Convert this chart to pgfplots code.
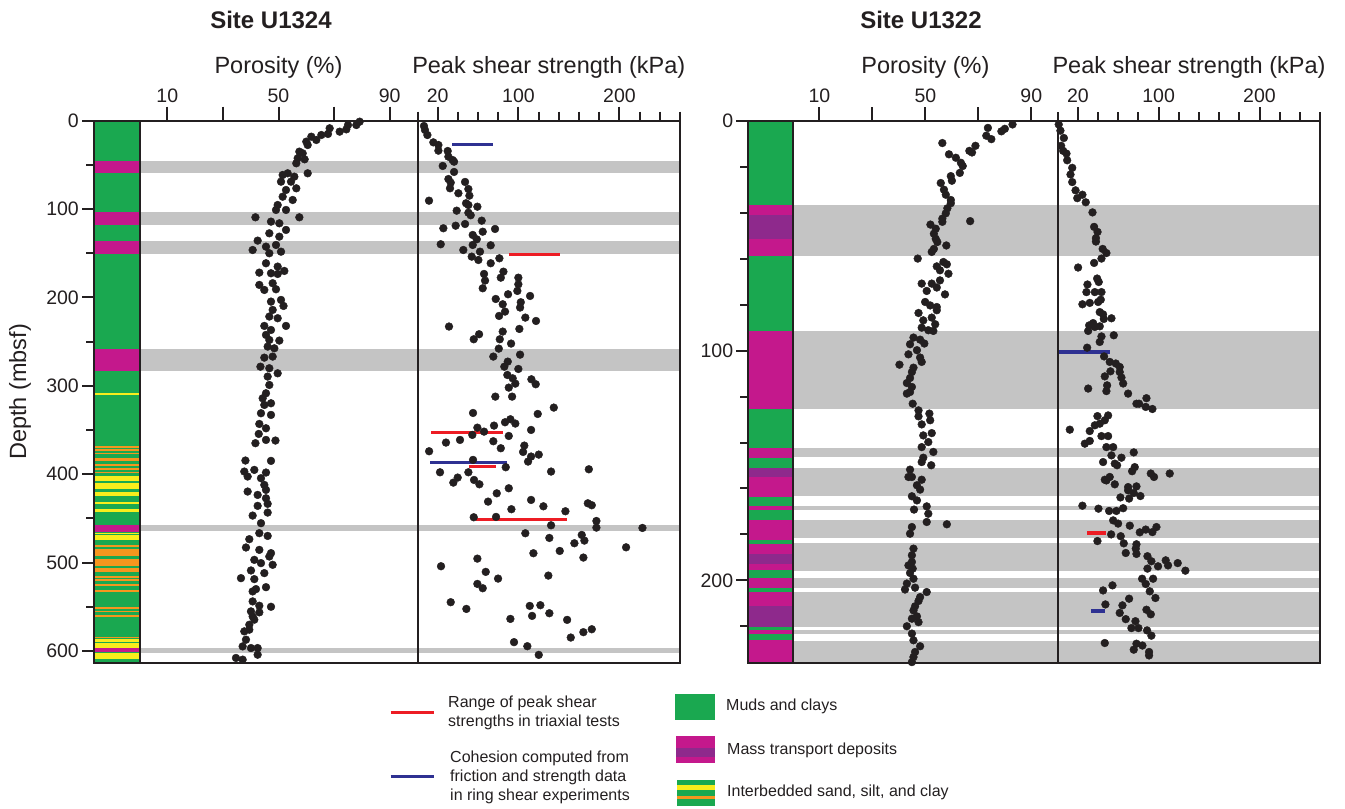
\documentclass[border=0pt]{standalone}
\usepackage{fontspec}
\setmainfont{Liberation Sans}
\usepackage{pgfplots}
\usepackage{pgfplotstable}
\pgfplotsset{compat=1.18}

\definecolor{ink}{RGB}{35,31,32}
\definecolor{mud}{RGB}{26,168,80}
\definecolor{mtd}{RGB}{196,24,140}
\definecolor{mtdp}{RGB}{142,41,140}
\definecolor{sandy}{RGB}{248,237,28}
\definecolor{silto}{RGB}{245,150,30}
\definecolor{bandc}{RGB}{196,196,196}
\definecolor{redl}{RGB}{237,28,36}
\definecolor{bluel}{RGB}{46,49,146}

\newcommand{\tickfont}{\fontsize{19.5}{22}\selectfont}
\newcommand{\labfont}{\fontsize{23.5}{27}\selectfont}
\newcommand{\titfont}{\fontsize{24}{28}\selectfont\bfseries}
\newcommand{\legfont}{\fontsize{16}{19}\selectfont}

\newcommand{\band}[3]{\fill[bandc] (axis cs:0,#2) rectangle (axis cs:#1,#3);}
\newcommand{\lith}[3]{\fill[#1] (axis cs:0,#2) rectangle (axis cs:1,#3);}

\pgfplotsset{
  base/.style={scale only axis, axis on top, clip=false, y dir=reverse,
    axis line style={line width=2pt, ink},
    tick style={line width=2pt, ink},
    tick align=outside,
    /pgf/number format/assume math mode=true,
    ticklabel style={font=\tickfont, text=ink, inner sep=0pt}},
  data/.style={base, ytick=\empty, xtick pos=right, xticklabel pos=right,
    xticklabel style={anchor=base, yshift=4.5pt}},
  litho/.style={base, xtick=\empty, xmin=0, xmax=1, ytick pos=left, yticklabel pos=left,
    yticklabel style={anchor=east, xshift=-3pt},
    major tick length=12pt, minor tick length=8pt},
  poro/.style={data, xmin=0, xmax=100, xtick={10,50,90}, minor xtick={30,70},
    major tick length=14pt, minor tick length=14pt},
  shear/.style={data, xmin=0, xmax=260, xtick={20,100,200},
    minor xtick={0,40,60,80,120,140,160,180,220,240,260},
    major tick length=14pt, minor tick length=9pt},
  dots/.style={only marks, mark=*, mark size=3.9pt, color=ink},
  redseg/.style={redl, line width=3.6pt, no marks},
  blueseg/.style={bluel, line width=3.6pt, no marks},
}

% ---------- Site U1324 porosity (%) vs depth (mbsf)
\pgfplotstableread{
x y
79.2 1.1
78.0 4.9
75.0 4.9
74.4 9.8
72.0 12.4
68.4 8.6
67.8 15.0
65.4 16.2
63.6 21.8
61.8 18.1
60.0 23.7
60.5 27.5
57.5 35.0
58.7 36.9
56.9 42.5
59.4 43.7
56.4 48.2
60.5 59.5
53.3 59.5
51.5 61.4
55.7 63.3
50.9 69.0
54.5 69.0
56.4 76.5
52.7 78.4
51.5 86.0
55.1 89.7
49.7 95.4
49.1 101.0
52.7 101.0
41.7 109.3
57.5 109.3
47.3 114.2
50.3 116.1
52.7 123.6
46.7 127.4
50.3 131.2
42.5 135.7
45.5 142.5
49.1 140.6
40.7 146.3
46.7 150.0
50.9 148.2
45.5 161.3
49.7 165.1
43.1 171.9
47.3 172.6
52.1 170.0
49.7 173.4
43.1 185.8
47.9 183.9
44.9 191.5
49.1 190.7
47.3 204.7
50.9 202.8
51.8 209.6
47.9 214.1
46.7 221.6
49.7 223.5
44.9 232.2
52.7 232.2
47.3 236.8
45.5 242.4
50.3 248.8
46.7 248.1
46.1 255.6
48.5 257.5
44.9 268.1
47.9 266.9
43.5 278.3
46.7 280.1
49.7 285.8
46.1 289.5
46.7 299.0
45.5 308.4
44.3 314.1
47.3 319.7
44.9 321.6
43.7 331.0
47.3 332.9
43.1 343.1
45.5 348.0
42.9 354.4
45.5 361.2
41.7 364.9
48.9 361.9
38.1 384.5
47.3 384.9
37.7 397.0
41.3 395.1
38.9 402.6
43.7 404.5
45.5 398.1
44.9 412.1
38.9 419.6
42.5 423.4
45.5 417.7
45.5 427.2
42.5 435.8
46.1 433.5
40.7 446.8
46.1 443.4
43.7 455.4
43.1 466.7
46.1 469.8
39.5 473.5
38.3 482.9
43.1 485.6
47.3 489.3
41.3 496.9
43.7 500.6
46.7 493.1
47.9 502.5
44.9 511.9
40.1 508.9
36.5 517.6
41.3 518.7
45.5 527.8
40.7 532.6
41.9 530.0
40.7 543.9
43.1 548.8
47.3 550.0
40.1 555.2
43.1 556.3
40.7 560.9
41.3 564.6
39.5 570.3
37.7 577.8
39.5 575.9
38.3 587.2
37.1 594.8
40.1 596.7
42.5 596.7
42.5 604.2
34.7 607.9
37.1 609.8
}\poroL

% ---------- Site U1324 peak shear strength (kPa) vs depth (mbsf)
\pgfplotstableread{
x y
6.4 6.0
7.4 10.5
9.8 16.2
15.7 24.5
20.7 27.5
20.7 33.9
29.9 34.3
30.6 40.7
34.8 44.5
36.2 46.4
25.0 51.2
36.2 58.0
30.6 66.0
32.9 70.1
32.2 76.5
47.1 69.3
50.4 77.3
51.4 84.8
40.5 82.1
11.4 90.5
48.1 93.4
50.4 95.4
59.3 97.3
38.8 101.8
50.4 104.1
52.7 107.0
63.6 113.1
25.6 121.7
37.8 118.8
47.1 116.9
76.8 122.5
54.7 129.3
58.7 134.2
64.6 125.6
23.0 139.8
54.7 140.6
72.5 141.0
45.4 146.3
61.9 148.2
53.7 153.8
60.3 157.6
72.5 161.3
81.1 155.7
65.9 173.4
85.1 170.8
66.9 180.9
82.5 177.6
99.9 177.6
64.6 189.6
99.9 185.1
98.9 192.6
89.7 196.4
111.5 198.3
77.5 201.7
84.4 207.7
102.3 205.4
101.6 211.4
86.7 216.0
80.8 220.9
106.8 222.8
117.4 226.6
31.2 232.9
61.0 241.6
55.7 247.3
84.4 238.6
100.9 235.6
81.5 247.3
92.7 252.2
80.5 257.9
101.6 264.7
75.1 266.9
89.4 272.6
86.0 278.3
99.9 280.9
89.0 287.7
94.3 291.5
96.9 297.5
112.8 292.6
117.1 298.2
90.4 302.0
77.1 312.2
93.7 312.2
135.0 324.6
55.0 330.7
119.1 331.8
59.3 347.3
75.8 345.0
86.7 341.2
92.0 337.8
96.9 342.7
112.5 349.9
54.3 355.5
65.9 351.8
90.4 356.7
42.1 361.2
28.2 364.2
75.1 362.7
82.5 370.6
105.8 367.6
104.6 374.8
11.5 374.0
112.5 380.0
120.1 377.8
109.5 385.7
55.0 383.8
87.4 392.1
22.3 397.8
50.4 397.8
132.3 397.0
169.7 394.4
39.8 403.8
35.5 409.5
56.0 406.5
61.3 411.4
78.5 421.6
90.4 415.9
69.9 431.0
112.5 429.1
124.7 436.3
93.0 439.6
146.5 441.9
168.7 432.9
172.6 435.1
55.7 448.7
77.8 448.3
177.2 452.9
177.2 460.4
132.3 457.8
222.8 460.8
106.8 466.8
130.6 472.1
162.7 468.7
165.3 475.1
155.4 478.1
206.6 482.7
140.9 486.8
114.8 489.4
164.3 494.3
59.3 495.5
23.3 504.1
67.6 510.5
79.8 518.1
129.6 514.7
59.3 524.1
64.6 529.0
32.9 544.8
48.4 552.4
111.2 549.0
121.7 548.2
130.6 557.3
113.5 560.3
92.0 563.7
148.2 564.8
95.6 590.0
108.8 594.6
151.8 584.8
164.3 578.7
172.6 575.4
120.1 604.4
}\shearL

% ---------- Site U1322 porosity (%) vs depth (mbsf)
\pgfplotstableread{
x y
82.9 1.5
80.0 3.4
78.7 4.5
73.6 3.0
74.9 7.9
73.0 6.4
68.9 10.8
66.6 13.0
67.6 13.7
56.4 9.6
58.9 14.5
61.5 16.0
63.4 18.2
64.1 19.6
63.0 22.6
59.6 24.0
60.0 26.0
55.8 27.0
57.0 29.9
57.7 32.1
59.6 34.4
59.6 35.8
58.3 38.0
57.7 40.2
56.4 42.5
56.4 43.9
66.9 43.6
51.9 45.1
53.9 46.9
53.2 49.1
53.9 51.3
54.5 52.7
57.9 54.2
53.2 55.7
52.4 57.0
47.1 59.9
56.8 61.4
58.1 62.4
54.3 63.3
55.5 65.0
58.7 66.5
55.5 69.4
48.6 70.8
52.4 70.8
54.3 72.5
50.5 74.0
57.4 75.5
49.9 78.8
51.8 80.3
54.3 81.0
54.3 82.4
47.4 83.6
49.2 86.8
52.4 85.6
53.7 88.5
48.6 90.0
51.1 91.1
53.0 91.4
45.5 94.3
48.0 95.2
49.6 96.9
44.2 97.2
46.8 99.8
43.6 101.6
48.0 103.0
48.6 104.9
40.2 106.1
45.5 107.4
44.9 109.3
44.2 111.9
43.0 114.1
44.9 115.8
43.0 118.7
44.2 118.0
45.2 123.1
47.4 126.0
51.5 127.4
47.4 128.6
51.8 130.3
48.6 132.1
52.4 135.9
49.2 136.9
51.1 139.8
48.6 142.0
53.0 144.1
49.2 146.6
48.6 148.5
52.2 149.9
44.2 151.8
44.9 155.0
43.6 155.0
48.6 156.2
46.8 158.6
48.0 160.5
44.9 163.4
46.8 165.2
50.5 167.8
45.7 169.2
51.1 171.0
50.5 174.6
58.1 175.6
44.9 176.8
44.2 179.7
45.5 186.2
44.9 189.1
44.9 192.0
43.6 193.5
45.2 194.9
44.2 196.8
45.5 199.3
43.0 201.4
42.3 204.0
46.1 203.2
50.5 205.1
48.0 207.3
47.4 209.0
46.1 211.3
45.5 213.1
46.8 215.7
44.9 216.7
47.4 218.2
43.0 220.0
44.9 223.2
45.5 226.1
48.0 228.7
46.1 231.2
45.5 233.4
44.9 235.6
}\poroR

% ---------- Site U1322 peak shear strength (kPa) vs depth (mbsf)
\pgfplotstableread{
x y
0.9 1.5
2.6 4.2
6.0 7.4
3.3 10.8
5.3 13.0
8.6 14.2
9.3 17.1
14.3 20.4
12.6 23.3
14.3 26.6
17.6 30.2
24.4 32.1
19.3 33.6
27.7 35.4
34.4 39.8
36.0 46.1
39.4 48.3
37.8 51.0
37.8 52.5
44.5 55.7
48.2 57.5
43.3 59.9
36.0 61.8
20.1 63.8
39.0 68.6
40.6 70.1
29.4 71.2
28.4 74.5
36.7 74.5
43.3 74.5
42.6 77.8
24.4 79.8
31.7 79.2
40.0 78.8
41.6 83.2
44.9 84.2
53.2 85.9
45.6 86.2
31.1 89.0
35.0 88.0
36.7 89.7
41.6 89.4
30.1 91.4
55.5 93.3
43.3 93.8
41.6 96.2
29.1 98.7
45.9 102.5
51.5 104.9
57.5 105.6
61.4 107.1
61.4 109.3
52.2 109.0
46.6 111.2
63.1 111.7
64.8 114.3
48.9 115.1
48.2 117.6
30.1 116.5
69.7 118.7
87.9 120.7
78.0 123.1
80.6 123.1
87.2 124.5
93.8 125.4
39.3 128.5
49.9 128.2
46.6 130.3
41.6 131.8
36.7 132.5
11.9 134.4
31.7 135.0
43.3 137.2
49.9 137.2
31.7 139.3
26.8 140.5
48.2 142.0
54.9 142.0
75.3 144.3
53.2 145.6
63.1 146.6
44.9 148.5
56.5 149.2
58.8 149.9
76.3 150.7
73.7 152.5
92.2 153.5
95.4 155.0
111.0 153.5
46.6 156.2
51.5 155.0
48.2 156.5
56.5 158.2
69.7 159.4
78.0 159.1
69.7 160.8
75.3 162.0
81.9 163.3
62.1 163.9
70.7 164.4
24.4 167.5
40.3 168.8
50.9 169.8
58.1 169.8
64.8 168.6
54.9 173.9
59.8 175.3
71.4 176.2
81.3 179.1
87.2 177.9
93.8 179.0
97.8 176.8
52.9 180.0
62.4 180.8
65.4 183.9
78.0 184.3
67.4 188.1
78.0 188.5
39.3 182.9
77.3 186.2
88.9 189.5
92.8 191.7
99.4 193.9
107.0 191.3
109.3 193.5
118.9 192.5
126.5 195.8
88.9 194.9
83.6 199.3
87.2 201.6
94.5 199.3
91.2 204.8
96.8 207.7
54.2 202.2
44.9 204.4
47.2 210.5
64.1 210.9
70.7 208.0
61.4 214.2
67.4 216.9
87.9 212.8
92.2 214.8
77.0 217.8
73.0 220.8
80.0 220.8
88.5 221.8
92.8 224.1
46.6 227.3
78.0 227.6
75.3 230.2
83.9 228.4
90.5 231.2
90.5 232.7
}\shearR

\begin{document}
\begin{tikzpicture}
\useasboundingbox (0,0) rectangle (1345pt,809pt);

% ================= Site U1324 =================
\begin{axis}[litho, at={(94pt,146pt)}, anchor=south west, width=45.5pt, height=542.3pt,
  ymin=0, ymax=613.6, ytick={0,100,200,300,400,500,600},
  minor ytick={50,150,250,350,450,550}]
\lith{mud}{0}{613.6}
\lith{mtd}{45.6}{59.5}
\lith{mtd}{102.9}{118}
\lith{mtd}{136.1}{150.8}
\lith{mtd}{258.3}{282.8}
\lith{sandy}{307.8}{309.8}
\lith{silto}{368.0}{369.9}
\lith{silto}{371.7}{373.6}
\lith{silto}{375.5}{377.4}
\lith{silto}{381.9}{385.0}
\lith{silto}{388.7}{390.6}
\lith{silto}{393.2}{395.1}
\lith{silto}{397.1}{398.9}
\lith{sandy}{401.9}{407.6}
\lith{sandy}{410.2}{416.6}
\lith{sandy}{420.4}{424.2}
\lith{sandy}{431.0}{433.6}
\lith{sandy}{439.3}{442.3}
\lith{mtd}{457.7}{464.9}
\lith{sandy}{466.1}{467.9}
\lith{sandy}{468.7}{474.3}
\lith{silto}{480.0}{481.9}
\lith{silto}{484.5}{492.4}
\lith{silto}{496.2}{503.7}
\lith{silto}{506.3}{510.2}
\lith{silto}{515.0}{516.9}
\lith{silto}{518.8}{520.7}
\lith{silto}{524.4}{526.4}
\lith{silto}{530.9}{532.8}
\lith{silto}{550.1}{552.0}
\lith{silto}{554.3}{556.1}
\lith{silto}{559.2}{561.1}
\lith{silto}{583.7}{585.5}
\lith{sandy}{586.3}{590.1}
\lith{sandy}{591.2}{596.2}
\lith{mtd}{596.8}{600.7}
\lith{sandy}{602.5}{609.3}
\end{axis}

\begin{axis}[poro, at={(139.5pt,146pt)}, anchor=south west, width=278pt, height=542.3pt,
  ymin=0, ymax=613.6]
\band{100}{45.6}{59.5}
\band{100}{102.9}{118}
\band{100}{136.1}{150.8}
\band{100}{258.3}{282.8}
\band{100}{457.5}{464.5}
\band{100}{597}{602.5}
\addplot[dots] table {\poroL};
\end{axis}

\begin{axis}[shear, at={(417.5pt,146pt)}, anchor=south west, width=262.5pt, height=542.3pt,
  ymin=0, ymax=613.6]
\band{260}{45.6}{59.5}
\band{260}{102.9}{118}
\band{260}{136.1}{150.8}
\band{260}{258.3}{282.8}
\band{260}{457.5}{464.5}
\band{260}{597}{602.5}
\addplot[dots] table {\shearL};
\addplot[blueseg] coordinates {(34.5,27.1) (74.5,27.1)};
\addplot[redseg] coordinates {(91,151.6) (141.2,151.6)};
\addplot[redseg] coordinates {(13.4,352.9) (84.4,352.9)};
\addplot[blueseg] coordinates {(12.4,386.8) (88.4,386.8)};
\addplot[redseg] coordinates {(51,391.3) (77.8,391.3)};
\addplot[redseg] coordinates {(58,451.3) (147.9,451.3)};
\end{axis}

% ================= Site U1322 =================
\begin{axis}[litho, at={(748.3pt,146pt)}, anchor=south west, width=44.7pt, height=542pt,
  ymin=0, ymax=236, ytick={0,100,200},
  minor ytick={20,40,60,80,120,140,160,180,220}]
\lith{mud}{0}{236}
\lith{mtd}{36.7}{41.1}
\lith{mtdp}{41.1}{51.5}
\lith{mtd}{51.5}{58.9}
\lith{mtd}{91.6}{125.5}
\lith{mtd}{142.5}{146.6}
\lith{mtdp}{151.2}{155.1}
\lith{mtd}{155.1}{163.7}
\lith{mtd}{167.8}{169.5}
\lith{mtd}{173.9}{182.3}
\lith{mtd}{184}{188.7}
\lith{mtdp}{188.7}{193}
\lith{mtd}{193}{195.7}
\lith{mtd}{198.8}{203.5}
\lith{mtd}{205.2}{211.3}
\lith{mtdp}{211.3}{220.3}
\lith{mtd}{221.8}{223.5}
\lith{mtd}{226.1}{236}
\end{axis}

\begin{axis}[poro, at={(793pt,146pt)}, anchor=south west, width=264.8pt, height=542pt,
  ymin=0, ymax=236]
\band{100}{36.7}{58.9}
\band{100}{91.6}{125.5}
\band{100}{142.5}{146.3}
\band{100}{151.2}{163.4}
\band{100}{167.8}{169.5}
\band{100}{173.9}{181.6}
\band{100}{183.8}{196.1}
\band{100}{198.8}{203.5}
\band{100}{205.2}{220.3}
\band{100}{221.8}{223.2}
\band{100}{226.4}{236}
\addplot[dots] table {\poroR};
\end{axis}

\begin{axis}[shear, at={(1057.8pt,146pt)}, anchor=south west, width=262.2pt, height=542pt,
  ymin=0, ymax=236]
\band{260}{36.7}{58.9}
\band{260}{91.6}{125.5}
\band{260}{142.5}{146.3}
\band{260}{151.2}{163.4}
\band{260}{167.8}{169.5}
\band{260}{173.9}{181.6}
\band{260}{183.8}{196.1}
\band{260}{198.8}{203.5}
\band{260}{205.2}{220.3}
\band{260}{221.8}{223.2}
\band{260}{226.4}{236}
\addplot[dots] table {\shearR};
\addplot[blueseg] coordinates {(1.3,100.6) (52.2,100.6)};
\addplot[redseg] coordinates {(29,179.4) (47.3,179.4)};
\addplot[blueseg] coordinates {(32.7,213.4) (46.3,213.4)};
\end{axis}

% ================= titles and axis labels =================
\node[anchor=base, font=\titfont, text=ink] at (271pt,780.5pt) {Site U1324};
\node[anchor=base, font=\titfont, text=ink] at (921pt,780.5pt) {Site U1322};
\node[anchor=base, font=\labfont, text=ink] at (278.5pt,735pt) {Porosity (\%)};
\node[anchor=base, font=\labfont, text=ink] at (548.75pt,735pt) {Peak shear strength (kPa)};
\node[anchor=base, font=\labfont, text=ink] at (925.4pt,735pt) {Porosity (\%)};
\node[anchor=base, font=\labfont, text=ink] at (1189pt,735pt) {Peak shear strength (kPa)};
\node[rotate=90, font=\labfont, text=ink] at (20pt,417pt) {Depth (mbsf)};

% ================= legend =================
\draw[redl, line width=3.6pt] (390.7pt,96.3pt) -- (433.6pt,96.3pt);
\node[anchor=west, align=left, font=\legfont, text=ink, inner sep=0pt] at (448pt,96.5pt)
  {Range of peak shear\\strengths in triaxial tests};
\draw[bluel, line width=3.6pt] (390.7pt,32.3pt) -- (433.6pt,32.3pt);
\node[anchor=west, align=left, font=\legfont, text=ink, inner sep=0pt] at (450pt,31.7pt)
  {Cohesion computed from\\friction and strength data\\in ring shear experiments};
\fill[mud] (675pt,89pt) rectangle (714.5pt,115pt);
\node[anchor=west, font=\legfont, text=ink, inner sep=0pt] at (726pt,102.3pt) {Muds and clays};
\fill[mtd] (676pt,46.3pt) rectangle (715pt,73pt);
\fill[mtdp] (676pt,51.7pt) rectangle (715pt,60.7pt);
\node[anchor=west, font=\legfont, text=ink, inner sep=0pt] at (727pt,59pt) {Mass transport deposits};
\fill[mud] (676.5pt,3pt) rectangle (715pt,29pt);
\fill[sandy] (676.5pt,19pt) rectangle (715pt,24pt);
\fill[silto] (676.5pt,10pt) rectangle (715pt,13.3pt);
\node[anchor=west, font=\legfont, text=ink, inner sep=0pt] at (727pt,16.3pt) {Interbedded sand, silt, and clay};
\end{tikzpicture}
\end{document}
